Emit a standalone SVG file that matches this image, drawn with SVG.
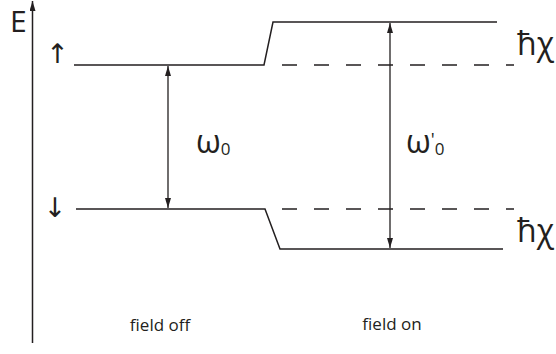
<svg xmlns="http://www.w3.org/2000/svg" width="556" height="354" viewBox="0 0 556 354">
<style>
.ln{stroke:#231f20;stroke-width:1.5;fill:none}
.ds{stroke:#231f20;stroke-width:1.5;fill:none;stroke-dasharray:15 17}
.ar{stroke:#231f20;stroke-width:1.3;fill:none;marker-start:url(#ah);marker-end:url(#ah)}
.t{font-family:"Open Sans","Liberation Sans",sans-serif;fill:#231f20}
.sym{font-family:"DejaVu Sans",sans-serif;fill:#231f20}
</style>
<defs>
<marker id="ah" viewBox="0 0 10 6" refX="10" refY="3" markerWidth="10" markerHeight="6" markerUnits="userSpaceOnUse" orient="auto-start-reverse">
<path d="M0,0 L10,3 L0,6 Z" fill="#231f20"/>
</marker>
<marker id="axh" viewBox="0 0 10 6" refX="10" refY="3" markerWidth="12" markerHeight="6" markerUnits="userSpaceOnUse" orient="auto">
<path d="M0,0 L10,3 L0,6 Z" fill="#231f20"/>
</marker>
</defs>
<g id="axis">
<line x1="32.5" y1="343" x2="32.5" y2="1" class="ln" marker-end="url(#axh)"/>
<text x="10" y="32" class="t" font-size="30">E</text>
</g>
<g id="up-label"><text x="57.5" y="63" class="sym" font-size="27" text-anchor="middle">↑</text></g>
<g id="down-label"><text x="55" y="217" class="sym" font-size="27" text-anchor="middle">↓</text></g>
<g id="upper-level">
<path class="ln" d="M74,65 H264 L273,22 H497"/>
<line class="ds" x1="282" y1="65" x2="514" y2="65"/>
</g>
<g id="lower-level">
<path class="ln" d="M76,209 H265 L280,249 H503"/>
<line class="ds" x1="282" y1="209" x2="514" y2="209"/>
</g>
<g id="connectors">
<line class="ar" x1="168" y1="66" x2="168" y2="208"/>
<line class="ar" x1="390" y1="23" x2="390" y2="248"/>
</g>
<g id="omega0"><text x="196" y="153" class="t" font-size="32">ω<tspan font-size="17" dy="2">0</tspan></text></g>
<g id="omega0p"><text x="406" y="153" class="t" font-size="32">ω<tspan font-size="18" dy="-7">'</tspan><tspan font-size="17" dy="9">0</tspan></text></g>
<g id="hchi-up"><text x="517" y="55" class="t" font-size="32">ħχ</text></g>
<g id="hchi-down"><text x="517" y="242" class="t" font-size="32">ħχ</text></g>
<g id="field-off"><text x="160" y="331" class="t" font-size="17" text-anchor="middle">field off</text></g>
<g id="field-on"><text x="392" y="330" class="t" font-size="17" text-anchor="middle">field on</text></g>
</svg>
